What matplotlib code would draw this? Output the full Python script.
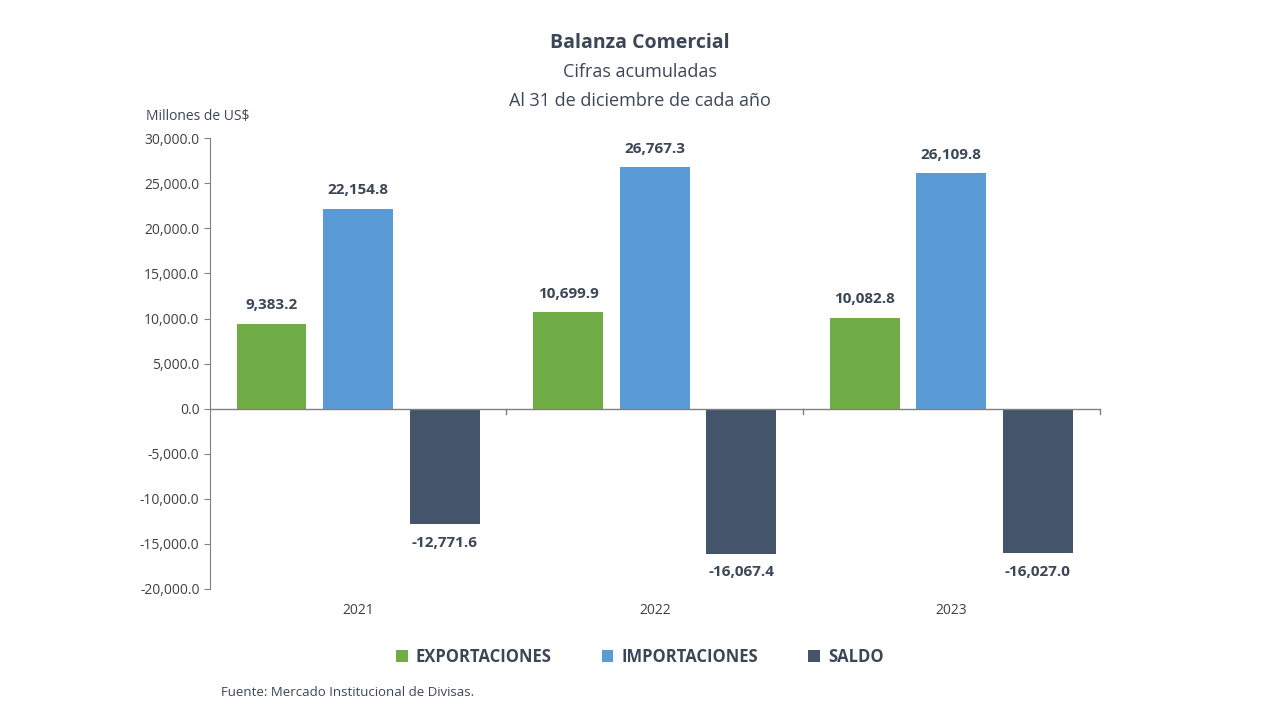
import matplotlib.pyplot as plt
import numpy as np

years = ["2021", "2022", "2023"]
exportaciones = [9383.2, 10699.9, 10082.8]
importaciones = [22154.8, 26767.3, 26109.8]
saldo = [-12771.6, -16067.4, -16027.0]
series_names = ["EXPORTACIONES", "IMPORTACIONES", "SALDO"]
colors = ["#70ad47", "#5b9bd5", "#44546a"]
text_color = "#3b4656"

plt.rcParams['font.family'] = ['Open Sans', 'DejaVu Sans']

fig = plt.figure(figsize=(12.8, 7.2), dpi=100)
ax = fig.add_axes([0.164, 0.182, 0.695, 0.626])

x = np.arange(len(years)) + 0.5
width = 0.235
offset = 0.292
for i, (vals, name, c) in enumerate(zip([exportaciones, importaciones, saldo], series_names, colors)):
    pos = x + (i - 1) * offset
    ax.bar(pos, vals, width, color=c, label=name)
    for p, v in zip(pos, vals):
        if v >= 0:
            ax.text(p, v + 1300, f"{v:,.1f}", ha="center", va="bottom", fontsize=11,
                    fontweight="bold", color=text_color)
        else:
            ax.text(p, v - 1300, f"{v:,.1f}", ha="center", va="top", fontsize=11,
                    fontweight="bold", color=text_color)

ax.set_xlim(0, 3)
ax.set_ylim(-20000, 30000)
ax.set_yticks(np.arange(-20000, 30001, 5000))
ax.set_yticklabels([f"{v:,.1f}" for v in np.arange(-20000, 30001, 5000)], fontsize=10, color="#404040")
ax.set_xticks([])
for s in ["top", "right", "bottom"]:
    ax.spines[s].set_visible(False)
ax.spines["left"].set_color("#808080")
ax.tick_params(axis="y", length=4, color="#808080")
ax.axhline(0, color="#808080", lw=1)
for b in [1, 2, 3]:
    ax.plot([b, b], [-600, 0], color="#808080", lw=1, clip_on=False)
for xi, yr in zip(x, years):
    ax.text(xi, -21600, yr, ha="center", va="top", fontsize=10, color="#404040")

fig.text(0.5, 0.933, "Balanza Comercial", ha="center", fontsize=14, fontweight="bold", color=text_color)
fig.text(0.5, 0.893, "Cifras acumuladas", ha="center", fontsize=13, color=text_color)
fig.text(0.5, 0.853, "Al 31 de diciembre de cada año", ha="center", fontsize=13, color=text_color)
fig.text(0.114, 0.834, "Millones de US$", ha="left", fontsize=10, color=text_color)
fig.text(0.173, 0.033, "Fuente: Mercado Institucional de Divisas.", ha="left", fontsize=9.5, color=text_color)

leg = fig.legend(loc="center", bbox_to_anchor=(0.5, 0.088), ncol=3, frameon=False,
                 handlelength=0.7, handleheight=0.7, columnspacing=3.0, handletextpad=0.5,
                 prop={"size": 12, "weight": "bold"})
for t in leg.get_texts():
    t.set_color(text_color)

fig.savefig("out.png", dpi=100)
